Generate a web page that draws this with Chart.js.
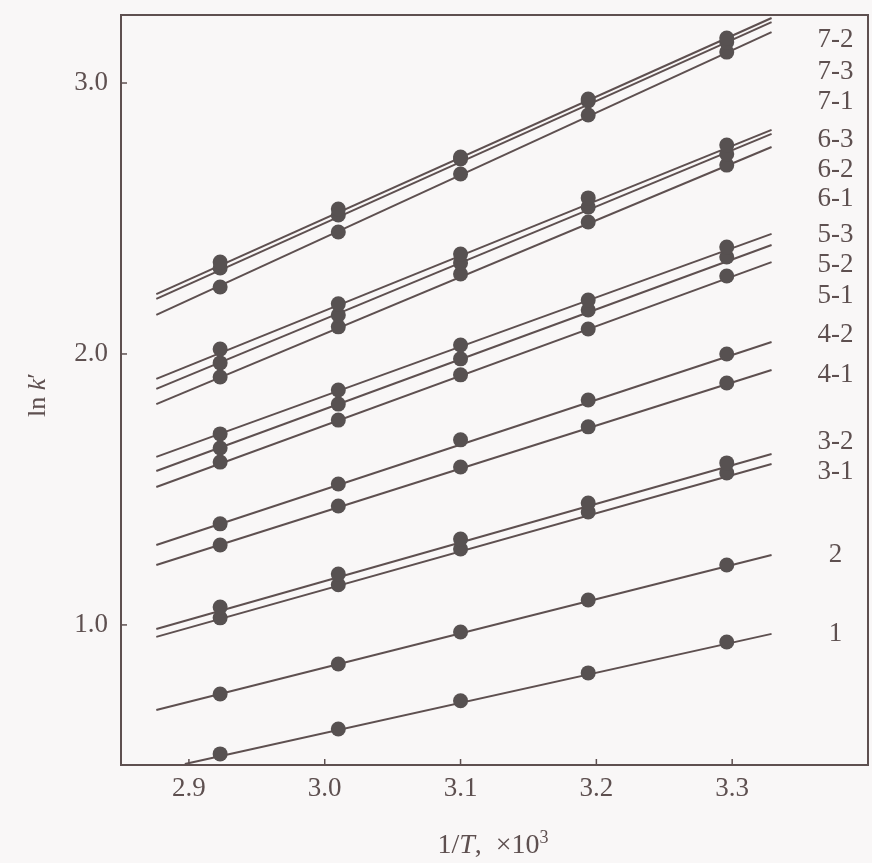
<!DOCTYPE html>
<html>
<head>
<meta charset="utf-8">
<script src="https://cdn.jsdelivr.net/npm/chart.js@4"></script>
<style>
  html, body { margin: 0; padding: 0; background: #f9f7f7; }
  #wrap { width: 872px; height: 863px; }
</style>
</head>
<body>
<div id="wrap"><canvas id="chart" width="872" height="863"></canvas></div>
<script>
// -------------------------------
//  DATA
// -------------------------------
const xValues = [2.923, 3.010, 3.100, 3.194, 3.296];   // 1/T x10^3
const xTicks = [2.9, 3.0, 3.1, 3.2, 3.3];
const yTicks = [1.0, 2.0, 3.0];

const seriesNames = ['7-2', '7-3', '7-1', '6-3', '6-2', '6-1', '5-3', '5-2', '5-1', '4-2', '4-1', '3-2', '3-1', '2', '1'];

// measured ln k'
const s72 = [2.339, 2.535, 2.727, 2.941, 3.166];
const s73 = [2.317, 2.513, 2.720, 2.934, 3.151];
const s71 = [2.247, 2.450, 2.664, 2.882, 3.114];
const s63 = [2.018, 2.185, 2.369, 2.576, 2.771];
const s62 = [1.967, 2.144, 2.336, 2.542, 2.738];
const s61 = [1.915, 2.100, 2.295, 2.487, 2.697];
const s53 = [1.705, 1.867, 2.033, 2.199, 2.395];
const s52 = [1.653, 1.815, 1.982, 2.162, 2.358];
const s51 = [1.601, 1.756, 1.923, 2.092, 2.288];
const s42 = [1.373, 1.520, 1.683, 1.830, 2.000];
const s41 = [1.295, 1.439, 1.583, 1.731, 1.893];
const s32 = [1.066, 1.188, 1.317, 1.450, 1.598];
const s31 = [1.026, 1.148, 1.280, 1.417, 1.561];
const s2  = [0.745, 0.856, 0.974, 1.092, 1.221];
const s1  = [0.524, 0.616, 0.720, 0.823, 0.937];

// fitted straight lines: ends of each line
const fitX  = [2.876, 3.329];
const fitX1 = [2.897, 3.329];
const f72 = [2.221, 3.240];
const f73 = [2.203, 3.225];
const f71 = [2.144, 3.188];
const f63 = [1.908, 2.827];
const f62 = [1.871, 2.812];
const f61 = [1.815, 2.764];
const f53 = [1.620, 2.443];
const f52 = [1.568, 2.402];
const f51 = [1.509, 2.339];
const f42 = [1.295, 2.044];
const f41 = [1.221, 1.941];
const f32 = [0.985, 1.631];
const f31 = [0.956, 1.594];
const f2  = [0.686, 1.258];
const f1  = [0.487, 0.967];

// where each name sits at the right edge (ln k' units)
const labelY = [3.159, 3.041, 2.930, 2.790, 2.679, 2.572, 2.439, 2.328, 2.214, 2.070, 1.923, 1.675, 1.565, 1.258, 0.967];

const pointSets = [s72, s73, s71, s63, s62, s61, s53, s52, s51, s42, s41, s32, s31, s2, s1];
const fitSets   = [f72, f73, f71, f63, f62, f61, f53, f52, f51, f42, f41, f32, f31, f2, f1];

const INK = '#5e5050';
const DOT = '#575151';
const SERIF = "'Liberation Serif', 'DejaVu Serif', serif";

// -------------------------------
//  DATASETS
// -------------------------------
const datasets = [];
seriesNames.forEach((name, i) => {
    const fx = name === '1' ? fitX1 : fitX;
    datasets.push({
        label: name + ' fit',
        data: fx.map((x, j) => ({ x: x, y: fitSets[i][j] })),
        showLine: true,
        borderColor: INK,
        borderWidth: 2,
        pointRadius: 0,
        order: 2
    });
    datasets.push({
        label: name,
        data: xValues.map((x, j) => ({ x: x, y: pointSets[i][j] })),
        showLine: false,
        backgroundColor: DOT,
        borderWidth: 0,
        pointRadius: 7.5,
        order: 1
    });
});

// -------------------------------
//  FRAME, INWARD TICKS, LABELS, TITLES
// -------------------------------
const decorPlugin = {
    id: 'decor',
    afterDraw(chart) {
        const { ctx, chartArea: a, scales: { x, y } } = chart;
        ctx.save();
        ctx.strokeStyle = INK;
        ctx.lineWidth = 2;
        ctx.strokeRect(a.left, a.top, a.right - a.left, a.bottom - a.top);

        // small inward ticks
        ctx.lineWidth = 1.5;
        xTicks.forEach(v => {
            const px = x.getPixelForValue(v);
            ctx.beginPath(); ctx.moveTo(px, a.bottom); ctx.lineTo(px, a.bottom - 6); ctx.stroke();
        });
        yTicks.forEach(v => {
            const py = y.getPixelForValue(v);
            ctx.beginPath(); ctx.moveTo(a.left, py); ctx.lineTo(a.left + 6, py); ctx.stroke();
        });

        // series names on the right
        ctx.fillStyle = INK;
        ctx.font = '27px ' + SERIF;
        ctx.textAlign = 'center';
        ctx.textBaseline = 'middle';
        const lx = x.getPixelForValue(3.376);
        seriesNames.forEach((name, i) => {
            ctx.fillText(name, lx, y.getPixelForValue(labelY[i]));
        });

        // x title: 1/T,  x10^3
        ctx.textAlign = 'left';
        ctx.textBaseline = 'alphabetic';
        const parts = [
            { t: '1/', f: '28px ' + SERIF, dy: 0 },
            { t: 'T', f: 'italic 28px ' + SERIF, dy: 0 },
            { t: ',  \u00d710', f: '28px ' + SERIF, dy: 0 },
            { t: '3', f: '18px ' + SERIF, dy: -10 }
        ];
        let w = 0;
        parts.forEach(p => { ctx.font = p.f; w += ctx.measureText(p.t).width; });
        let cx = 493 - w / 2;
        parts.forEach(p => {
            ctx.font = p.f;
            ctx.fillText(p.t, cx, 853 + p.dy);
            cx += ctx.measureText(p.t).width;
        });

        // y title: ln k'
        ctx.translate(45, 395);
        ctx.rotate(-Math.PI / 2);
        const yParts = [
            { t: 'ln ', f: '26px ' + SERIF },
            { t: 'k', f: 'italic 26px ' + SERIF },
            { t: '\u2032', f: '26px ' + SERIF }
        ];
        w = 0;
        yParts.forEach(p => { ctx.font = p.f; w += ctx.measureText(p.t).width; });
        cx = -w / 2;
        yParts.forEach(p => {
            ctx.font = p.f;
            ctx.fillText(p.t, cx, 0);
            cx += ctx.measureText(p.t).width;
        });
        ctx.restore();
    }
};

// -------------------------------
//  CHART
// -------------------------------
new Chart(document.getElementById('chart').getContext('2d'), {
    type: 'scatter',
    data: { datasets: datasets },
    options: {
        responsive: false,
        devicePixelRatio: 1,
        animation: false,
        layout: { autoPadding: false, padding: { top: 15, right: 4, left: 0, bottom: 0 } },
        plugins: { legend: { display: false }, tooltip: { enabled: false } },
        scales: {
            x: {
                type: 'linear',
                min: 2.85,
                max: 3.4,
                afterBuildTicks: s => { s.ticks = xTicks.map(v => ({ value: v })); },
                afterFit: s => { s.height = 98; s.paddingLeft = 0; s.paddingRight = 0; },
                grid: { display: false, drawTicks: false, tickLength: 0 },
                border: { display: false },
                ticks: {
                    padding: 8,
                    color: INK,
                    font: { family: SERIF, size: 27 },
                    maxRotation: 0,
                    callback: v => Number(v).toFixed(1)
                }
            },
            y: {
                type: 'linear',
                min: 0.483,
                max: 3.251,
                afterBuildTicks: s => { s.ticks = yTicks.map(v => ({ value: v })); },
                afterFit: s => { s.width = 121; s.paddingTop = 0; s.paddingBottom = 0; },
                grid: { display: false, drawTicks: false, tickLength: 0 },
                border: { display: false },
                ticks: {
                    padding: 13,
                    color: INK,
                    font: { family: SERIF, size: 27 },
                    callback: v => Number(v).toFixed(1)
                }
            }
        }
    },
    plugins: [decorPlugin]
});
</script>
</body>
</html>
